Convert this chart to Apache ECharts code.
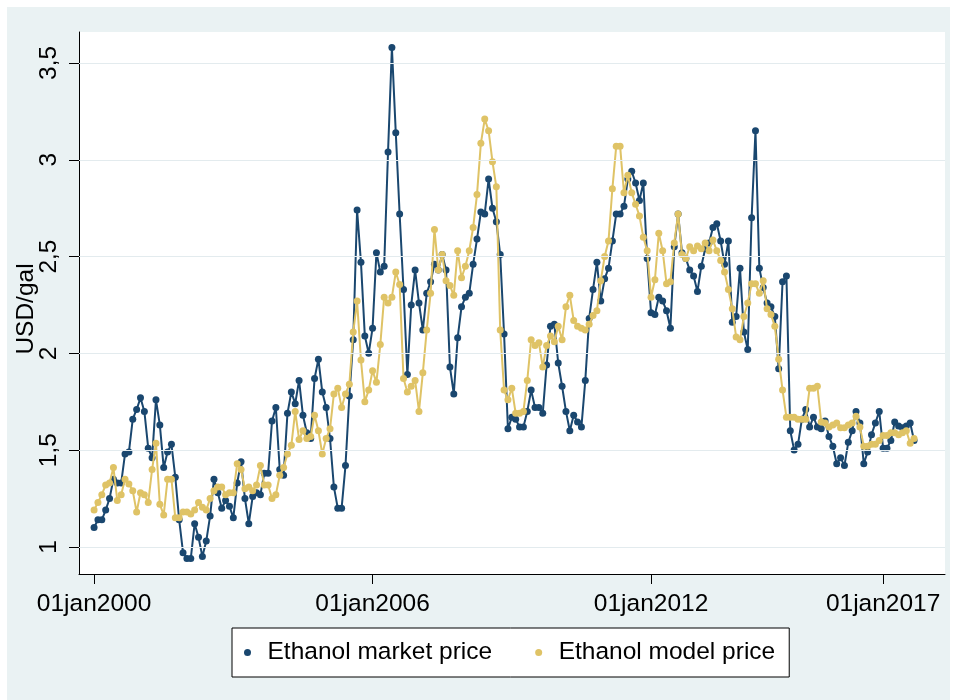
<!DOCTYPE html>
<html>
<head>
<meta charset="utf-8">
<script src="https://cdn.jsdelivr.net/npm/echarts@6/dist/echarts.min.js"></script>
<style>
  html, body { margin: 0; padding: 0; background: #ffffff; }
  #chart { width: 957px; height: 700px; }
</style>
</head>
<body>
<div id="chart"></div>
<script>
// Monthly ethanol prices (USD/gal), first value = January 2000
const startYear = 2000;

const marketPrice = [
  1.10, 1.14, 1.14, 1.19, 1.25, 1.35, 1.33, 1.33, 1.48, 1.49,
  1.66, 1.71, 1.77, 1.70, 1.51, 1.46, 1.76, 1.63, 1.41, 1.49,
  1.53, 1.36, 1.14, 0.97, 0.94, 0.94, 1.12, 1.05, 0.95, 1.03,
  1.16, 1.35, 1.28, 1.20, 1.24, 1.21, 1.15, 1.33, 1.44, 1.25,
  1.12, 1.26, 1.28, 1.27, 1.38, 1.38, 1.65, 1.72, 1.40, 1.37,
  1.69, 1.80, 1.74, 1.86, 1.68, 1.59, 1.56, 1.87, 1.97, 1.80,
  1.72, 1.56, 1.31, 1.20, 1.20, 1.42, 1.78, 2.07, 2.74, 2.47,
  2.09, 2.00, 2.13, 2.52, 2.42, 2.45, 3.04, 3.58, 3.14, 2.72,
  2.33, 1.89, 2.25, 2.43, 2.26, 2.12, 2.31, 2.37, 2.46, 2.43,
  2.51, 2.43, 1.93, 1.79, 2.08, 2.24, 2.29, 2.31, 2.46, 2.59,
  2.73, 2.72, 2.90, 2.75, 2.68, 2.51, 2.10, 1.61, 1.67, 1.66,
  1.62, 1.62, 1.70, 1.81, 1.72, 1.72, 1.69, 1.94, 2.14, 2.15,
  1.95, 1.83, 1.70, 1.60, 1.68, 1.645, 1.62, 1.86, 2.18, 2.33,
  2.47, 2.27, 2.385, 2.44, 2.58, 2.72, 2.72, 2.76, 2.90, 2.94,
  2.88, 2.79, 2.88, 2.49, 2.21, 2.20, 2.29, 2.27, 2.22, 2.13,
  2.55, 2.72, 2.52, 2.49, 2.43, 2.40, 2.32, 2.45, 2.54, 2.57,
  2.65, 2.67, 2.58, 2.46, 2.58, 2.16, 2.19, 2.44, 2.11, 2.02,
  2.70, 3.15, 2.44, 2.34, 2.26, 2.24, 2.19, 1.92, 2.37, 2.40,
  1.60, 1.50, 1.53, 1.66, 1.71, 1.62, 1.67, 1.62, 1.61, 1.65,
  1.57, 1.52, 1.43, 1.46, 1.42, 1.54, 1.60, 1.70, 1.64, 1.43,
  1.49, 1.58, 1.64, 1.70, 1.51, 1.51, 1.55, 1.645, 1.625, 1.615,
  1.625, 1.64, 1.55
];

const modelPrice = [
  1.19, 1.23, 1.27, 1.32, 1.33, 1.41, 1.24, 1.27, 1.35, 1.325,
  1.29, 1.18, 1.28, 1.27, 1.23, 1.40, 1.535, 1.22, 1.165, 1.35,
  1.35, 1.15, 1.15, 1.18, 1.18, 1.17, 1.19, 1.23, 1.205, 1.19,
  1.25, 1.29, 1.31, 1.31, 1.27, 1.28, 1.28, 1.43, 1.40, 1.30,
  1.31, 1.29, 1.32, 1.42, 1.32, 1.32, 1.25, 1.27, 1.37, 1.41,
  1.48, 1.525, 1.70, 1.555, 1.60, 1.56, 1.57, 1.68, 1.60, 1.48,
  1.56, 1.61, 1.79, 1.82, 1.72, 1.79, 1.84, 2.11, 2.27, 1.965,
  1.75, 1.81, 1.91, 1.85, 2.045, 2.29, 2.26, 2.29, 2.42, 2.355,
  1.87, 1.80, 1.83, 1.86, 1.70, 1.90, 2.12, 2.31, 2.64, 2.43,
  2.51, 2.375, 2.35, 2.30, 2.53, 2.39, 2.45, 2.53, 2.65, 2.82,
  3.085, 3.21, 3.15, 2.99, 2.86, 2.12, 1.81, 1.76, 1.82, 1.69,
  1.69, 1.70, 1.86, 2.07, 2.04, 2.055, 1.93, 2.04, 2.09, 2.06,
  2.14, 2.07, 2.24, 2.30, 2.17, 2.14, 2.13, 2.12, 2.15, 2.195,
  2.22, 2.375, 2.50, 2.58, 2.85, 3.07, 3.07, 2.83, 2.92, 2.83,
  2.77, 2.71, 2.60, 2.53, 2.29, 2.38, 2.62, 2.53, 2.36, 2.37,
  2.57, 2.72, 2.51, 2.49, 2.55, 2.53, 2.555, 2.54, 2.57, 2.53,
  2.585, 2.53, 2.48, 2.42, 2.33, 2.23, 2.085, 2.07, 2.19, 2.26,
  2.36, 2.36, 2.31, 2.375, 2.23, 2.20, 2.14, 1.97, 1.81, 1.67,
  1.67, 1.67, 1.66, 1.66, 1.66, 1.82, 1.82, 1.83, 1.645, 1.64,
  1.62, 1.63, 1.64, 1.615, 1.615, 1.63, 1.64, 1.675, 1.62, 1.52,
  1.52, 1.53, 1.53, 1.55, 1.575, 1.575, 1.59, 1.59, 1.58, 1.59,
  1.60, 1.535, 1.56
];

// Axis ticks: months since January 2000 and their date labels
const xTickMonths = [0, 72, 144, 204];
const xTickLabels = ['01jan2000', '01jan2006', '01jan2012', '01jan2017'];
const yTicks = [1, 1.5, 2, 2.5, 3, 3.5];

const seriesNames = ['Ethanol market price', 'Ethanol model price'];

const FONT = '"Liberation Sans", Arial, sans-serif';
const FONT_SIZE = 24.5;
const NAVY = '#1a476f';
const GOLD = '#dfc366';
const GRID_LINE = '#e3ebee';

const toPairs = arr => arr.map((v, i) => [i, v]);

const chart = echarts.init(document.getElementById('chart'), null, { renderer: 'canvas' });

chart.setOption({
  animation: false,
  backgroundColor: '#ffffff',
  textStyle: { fontFamily: FONT, color: '#000' },
  graphic: [{
    type: 'rect',
    z: -10,
    silent: true,
    shape: { x: 7, y: 7, width: 943, height: 693 },
    style: { fill: '#eaf2f3' }
  }],
  grid: {
    left: 79, right: 12, top: 32, bottom: 126,
    outerBoundsMode: 'none',
    containLabel: false,
    show: true, backgroundColor: '#ffffff', borderWidth: 0
  },
  legend: {
    data: seriesNames,
    left: 232, top: 628,
    orient: 'horizontal',
    icon: 'circle',
    itemWidth: 20, itemHeight: 7,
    itemGap: 43,
    padding: [12, 14, 12, 12],
    backgroundColor: '#ffffff',
    borderColor: '#000000',
    borderWidth: 1,
    textStyle: { fontFamily: FONT, fontSize: FONT_SIZE, color: '#000', padding: [0, 0, 0, 5] }
  },
  xAxis: {
    type: 'value',
    min: -3.9, max: 220,
    axisLine: { show: true, onZero: false, lineStyle: { color: '#000', width: 1 } },
    axisTick: { show: true, length: 10, customValues: xTickMonths, lineStyle: { color: '#000' } },
    axisLabel: {
      customValues: xTickMonths,
      margin: 18,
      fontFamily: FONT, fontSize: FONT_SIZE, color: '#000',
      formatter: v => {
        const k = xTickMonths.indexOf(Math.round(v));
        return k >= 0 ? xTickLabels[k] : '';
      }
    },
    splitLine: { show: false }
  },
  yAxis: {
    type: 'value',
    min: 0.86, max: 3.66,
    name: 'USD/gal',
    nameLocation: 'middle',
    nameGap: 40,
    nameMoveOverlap: false,
    nameRotate: 90,
    nameTextStyle: { fontFamily: FONT, fontSize: FONT_SIZE, color: '#000', padding: [0, 12, 0, 0] },
    axisLine: { show: true, onZero: false, lineStyle: { color: '#000', width: 1 } },
    axisTick: { show: true, length: 10, customValues: yTicks, lineStyle: { color: '#000' } },
    axisLabel: {
      customValues: yTicks,
      rotate: 90,
      margin: 17,
      fontFamily: FONT, fontSize: FONT_SIZE, color: '#000',
      formatter: v => String(v).replace('.', ',')
    },
    splitLine: { show: false }
  },
  series: [
    {
      // horizontal reference lines at each labelled y tick
      name: 'gridlines',
      type: 'line',
      data: [],
      z: 1,
      silent: true,
      markLine: {
        silent: true,
        symbol: ['none', 'none'],
        label: { show: false },
        lineStyle: { color: GRID_LINE, width: 1.2, type: 'solid' },
        emphasis: { disabled: true },
        data: yTicks.map(v => ({ yAxis: v }))
      }
    },
    {
      name: seriesNames[0],
      type: 'line',
      data: toPairs(marketPrice),
      z: 3,
      color: NAVY,
      showSymbol: true,
      showAllSymbol: true,
      symbol: 'circle',
      symbolSize: 7,
      lineStyle: { color: NAVY, width: 2 },
      itemStyle: { color: NAVY },
      emphasis: { disabled: true }
    },
    {
      name: seriesNames[1],
      type: 'line',
      data: toPairs(modelPrice),
      z: 4,
      color: GOLD,
      showSymbol: true,
      showAllSymbol: true,
      symbol: 'circle',
      symbolSize: 7,
      lineStyle: { color: GOLD, width: 2 },
      itemStyle: { color: GOLD },
      emphasis: { disabled: true }
    }
  ]
});
</script>
</body>
</html>
